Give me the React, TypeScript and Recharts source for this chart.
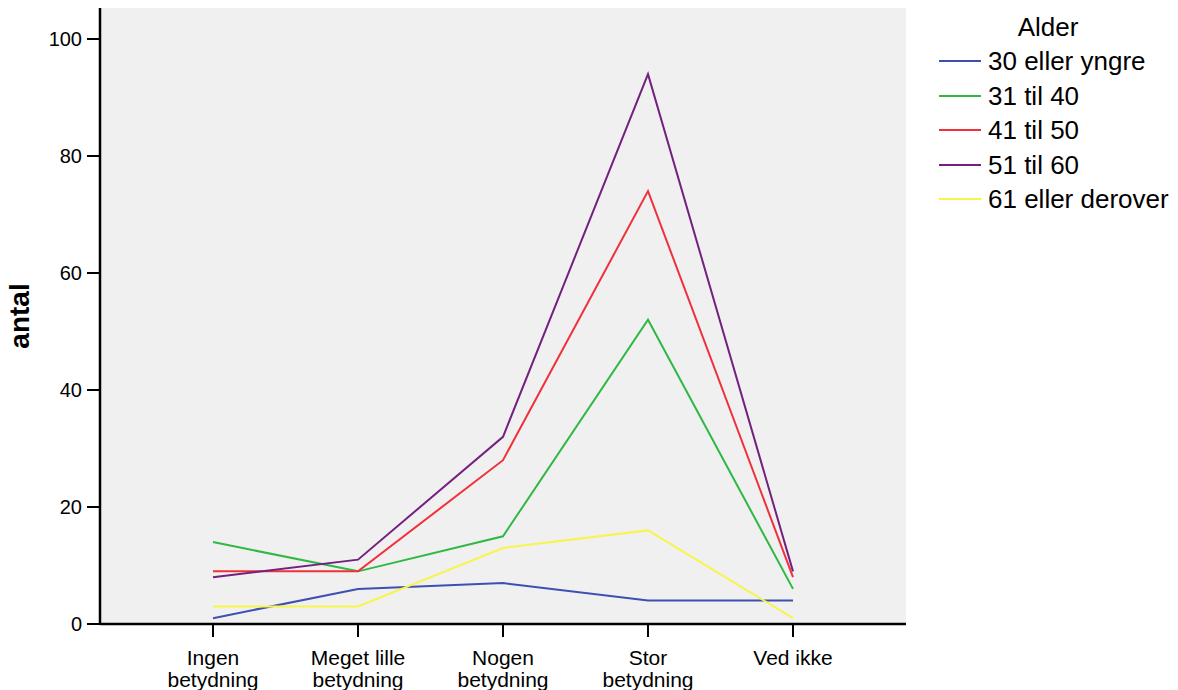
import { LineChart, Line, XAxis, YAxis, CartesianGrid, Legend } from "recharts";

// categories on x axis (two-line labels)
const categories = ["Ingen betydning", "Meget lille betydning", "Nogen betydning", "Stor betydning", "Ved ikke"];

// series values, one array per age group
const alder30 = [1, 6, 7, 4, 4];
const alder31til40 = [14, 9, 15, 52, 6];
const alder41til50 = [9, 9, 28, 74, 8];
const alder51til60 = [8, 11, 32, 94, 9];
const alder61 = [3, 3, 13, 16, 1];

const yTicks = [0, 20, 40, 60, 80, 100];

const series = [
  { key: "s30", name: "30 eller yngre", values: alder30, color: "#3d50b0" },
  { key: "s31", name: "31 til 40", values: alder31til40, color: "#2fb844" },
  { key: "s41", name: "41 til 50", values: alder41til50, color: "#f0303a" },
  { key: "s51", name: "51 til 60", values: alder51til60, color: "#73217f" },
  { key: "s61", name: "61 eller derover", values: alder61, color: "#f7f54c" },
];

const data = categories.map((c, i) => {
  const row: any = { cat: c };
  series.forEach((s) => (row[s.key] = s.values[i]));
  return row;
});

const font = "'Liberation Sans', Arial, sans-serif";

function XTick(props: any) {
  const { x, y, payload } = props;
  const words = String(payload.value).split(" ");
  const lines =
    words.length > 2 ? [words.slice(0, 2).join(" "), words.slice(2).join(" ")]
    : words[words.length - 1] === "ikke" ? [words.join(" ")]
    : words;
  return (
    <text x={x} y={y} textAnchor="middle" fontSize={21} fontFamily={font} fill="#000">
      {lines.map((l: string, i: number) => (
        <tspan key={i} x={x} dy={i === 0 ? 26 : 22}>
          {l}
        </tspan>
      ))}
    </text>
  );
}

function LegendBox() {
  return (
    <div style={{ fontFamily: font, fontSize: 26, color: "#000", position: "relative", width: 248, height: 220 }}>
      <div style={{ position: "absolute", left: 0, width: 236, top: 12, textAlign: "center", lineHeight: "30px" }}>Alder</div>
      {series.map((s, i) => (
        <div key={s.key} style={{ position: "absolute", left: 9, top: 46 + i * 34.6, height: 30, display: "flex", alignItems: "center" }}>
          <div style={{ width: 42, height: 2, background: s.color, marginRight: 7 }} />
          <span style={{ lineHeight: "30px", whiteSpace: "nowrap" }}>{s.name}</span>
        </div>
      ))}
    </div>
  );
}

export default function App() {
  return (
    <div style={{ position: "absolute", left: 0, top: 0, width: 1178, height: 690, background: "#fff", overflow: "hidden" }}>
      <LineChart width={1178} height={690} data={data} margin={{ top: 8, right: 272, bottom: 0, left: 0 }}>
        <CartesianGrid horizontal={false} vertical={false} fill="#f0f0f0" />
        <XAxis
          dataKey="cat"
          xAxisId="top"
          orientation="top"
          height={0}
          tick={false}
          tickLine={false}
          axisLine={{ stroke: "#444", strokeWidth: 1.5 }}
          padding={{ left: 113, right: 113 }}
        />
        <YAxis
          yAxisId="right"
          orientation="right"
          width={0}
          domain={[0, 105.3]}
          tick={false}
          tickLine={false}
          axisLine={{ stroke: "#555", strokeWidth: 2 }}
        />
        <XAxis
          dataKey="cat"
          height={66}
          interval={0}
          tickSize={13}
          tickLine={{ stroke: "#000", strokeWidth: 2 }}
          axisLine={{ stroke: "#000", strokeWidth: 2.5 }}
          padding={{ left: 113, right: 113 }}
          tick={<XTick />}
        />
        <YAxis
          width={100}
          domain={[0, 105.3]}
          ticks={yTicks}
          interval={0}
          tickSize={13}
          tickMargin={5}
          tickLine={{ stroke: "#000", strokeWidth: 2 }}
          axisLine={{ stroke: "#000", strokeWidth: 2.5 }}
          tick={{ fill: "#000", fontSize: 20, fontFamily: font }}
          label={{
            value: "antal",
            angle: -90,
            position: "insideLeft",
            dx: 14,
            style: { fontFamily: font, fontWeight: "bold", fontSize: 28, fill: "#000", textAnchor: "middle" },
          }}
        />
        {series.map((s) => (
          <Line
            key={s.key}
            dataKey={s.key}
            name={s.name}
            type="linear"
            stroke={s.color}
            strokeWidth={2}
            dot={false}
            activeDot={false}
            isAnimationActive={false}
          />
        ))}
        <Legend
          layout="vertical"
          align="center"
          verticalAlign="middle"
          wrapperStyle={{ position: "absolute", left: 930, top: 0, width: 248 }}
          content={<LegendBox />}
        />
      </LineChart>
    </div>
  );
}
